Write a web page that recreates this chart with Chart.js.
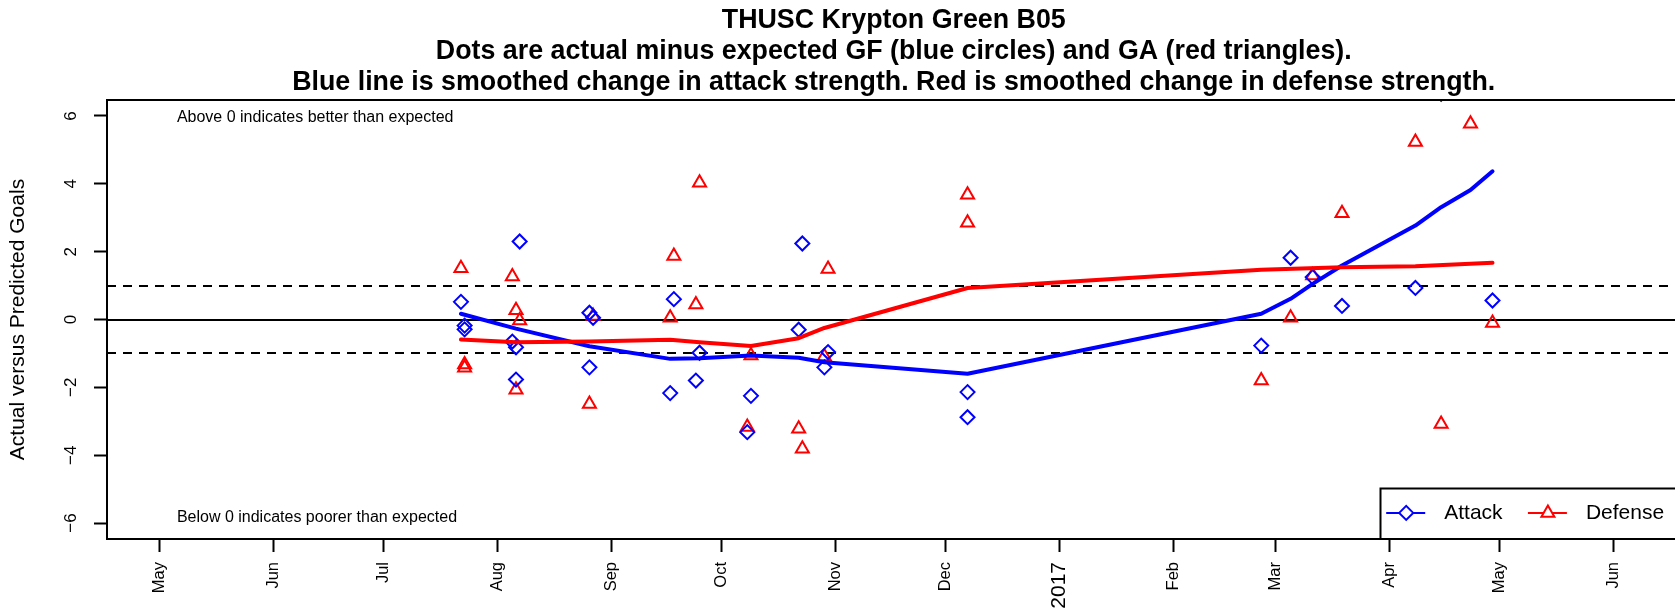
<!DOCTYPE html>
<html>
<head>
<meta charset="utf-8">
<script src="https://cdn.jsdelivr.net/npm/chart.js@4.4.1/dist/chart.umd.min.js"></script>
<style>
  html, body { margin: 0; padding: 0; background: #fff; overflow: hidden; }
  #wrap { width: 1690px; height: 615px; }
</style>
</head>
<body>
<div id="wrap"><canvas id="myChart" width="1690" height="615"></canvas></div>
<script>
// data
const titleLines = [
  'THUSC Krypton Green B05',
  'Dots are actual minus expected GF (blue circles) and GA (red triangles).',
  'Blue line is smoothed change in attack strength. Red is smoothed change in defense strength.'
];

const attackDates = ['2016-07-22', '2016-07-23', '2016-07-23', '2016-08-05', '2016-08-06', '2016-08-06',
  '2016-08-07', '2016-08-26', '2016-08-26', '2016-08-27', '2016-09-17', '2016-09-18', '2016-09-24',
  '2016-09-25', '2016-10-08', '2016-10-09', '2016-10-22', '2016-10-23', '2016-10-29', '2016-10-30',
  '2016-12-07', '2016-12-07', '2017-02-25', '2017-03-05', '2017-03-11', '2017-03-19', '2017-04-08',
  '2017-04-15', '2017-04-23', '2017-04-29'];
const attackValues = [0.52, -0.18, -0.29, -0.65, -0.82, -1.77,
  2.30, 0.20, -1.41, 0.05, -2.17, 0.60, -1.80,
  -0.98, -3.32, -2.25, -0.30, 2.24, -1.41, -0.96,
  -2.14, -2.88, -0.77, 1.82, 1.25, 0.40, 0.93,
  6.65, 7.5, 0.56];

const defenseDates = ['2016-07-22', '2016-07-23', '2016-07-23', '2016-08-05', '2016-08-06', '2016-08-06',
  '2016-08-07', '2016-08-26', '2016-08-27', '2016-09-17', '2016-09-18', '2016-09-24',
  '2016-09-25', '2016-10-08', '2016-10-09', '2016-10-22', '2016-10-23', '2016-10-29', '2016-10-30',
  '2016-12-07', '2016-12-07', '2017-02-25', '2017-03-05', '2017-03-11', '2017-03-19', '2017-04-08',
  '2017-04-15', '2017-04-23', '2017-04-29'];
const defenseValues = [1.51, -1.33, -1.42, 1.27, 0.27, -2.07,
  -0.03, -2.49, 0.10, 0.05, 1.87, 0.44,
  4.03, -3.17, -1.06, -3.22, -3.81, -1.09, 1.49,
  3.68, 2.85, -1.80, 0.05, 1.30, 3.13, 5.23,
  -3.08, 5.77, -0.10];

const attackTrendDates = ['2016-07-22', '2016-08-06', '2016-08-26', '2016-09-17', '2016-09-25', '2016-10-09',
  '2016-10-22', '2016-10-29', '2016-12-07', '2017-02-25', '2017-03-05', '2017-03-11', '2017-03-19',
  '2017-04-08', '2017-04-15', '2017-04-23', '2017-04-29'];
const attackTrendValues = [0.17, -0.27, -0.79, -1.16, -1.14, -1.06,
  -1.13, -1.26, -1.60, 0.17, 0.61, 1.05, 1.59,
  2.77, 3.31, 3.82, 4.37];

const defenseTrendDates = ['2016-07-22', '2016-08-06', '2016-08-26', '2016-09-17', '2016-09-25', '2016-10-09',
  '2016-10-22', '2016-10-29', '2016-12-07', '2017-02-25', '2017-03-19', '2017-04-08', '2017-04-29'];
const defenseTrendValues = [-0.59, -0.67, -0.65, -0.60, -0.67, -0.78,
  -0.55, -0.25, 0.93, 1.47, 1.54, 1.57, 1.67];

const monthTicks = ['2016-05-01', '2016-06-01', '2016-07-01', '2016-08-01', '2016-09-01', '2016-10-01',
  '2016-11-01', '2016-12-01', '2017-01-01', '2017-02-01', '2017-03-01', '2017-04-01', '2017-05-01', '2017-06-01'];
const monthLabels = ['May', 'Jun', 'Jul', 'Aug', 'Sep', 'Oct', 'Nov', 'Dec', '2017', 'Feb', 'Mar', 'Apr', 'May', 'Jun'];
const yTicks = [-6, -4, -2, 0, 2, 4, 6];
const refLines = [-1, 0, 1];

const FONT = "'Liberation Sans', Arial, Helvetica, sans-serif";
const toTime = s => Date.parse(s.length > 10 ? s + 'Z' : s + 'T00:00:00Z');
const pts = (dates, vals) => dates.map((d, i) => ({ x: toTime(d), y: vals[i] }));

// R-ish bits: box, reference lines, rotated y labels, notes, legend
const rStyle = {
  id: 'rStyle',
  beforeDatasetsDraw(chart) {
    const { ctx, chartArea: ca, scales: { y } } = chart;
    ctx.save();
    ctx.strokeStyle = '#000';
    ctx.lineWidth = 2;
    refLines.forEach(v => {
      const py = Math.round(y.getPixelForValue(v));
      ctx.setLineDash(v === 0 ? [] : [9, 7]);
      ctx.beginPath();
      ctx.moveTo(ca.left, py);
      ctx.lineTo(ca.right, py);
      ctx.stroke();
    });
    ctx.restore();
  },
  afterDatasetsDraw(chart) {
    const { ctx, chartArea: ca, scales: { x, y } } = chart;
    ctx.save();
    ctx.strokeStyle = '#000';
    ctx.lineWidth = 2;
    ctx.strokeRect(ca.left, ca.top, ca.right - ca.left, ca.bottom - ca.top);

    // y tick labels, rotated like R's las=0
    ctx.fillStyle = '#000';
    ctx.font = '17px ' + FONT;
    ctx.textAlign = 'center';
    ctx.textBaseline = 'middle';
    yTicks.forEach(v => {
      ctx.save();
      ctx.translate(71.5, y.getPixelForValue(v));
      ctx.rotate(-Math.PI / 2);
      ctx.fillText(v < 0 ? '\u2212' + Math.abs(v) : String(v), 0, 0);
      ctx.restore();
    });

    // notes
    ctx.font = '16px ' + FONT;
    ctx.textAlign = 'left';
    const nx = x.getPixelForValue(toTime('2016-05-05T15:00:00'));
    ctx.fillText('Above 0 indicates better than expected', nx, y.getPixelForValue(5.95));
    ctx.fillText('Below 0 indicates poorer than expected', nx, y.getPixelForValue(-5.85));

    // legend, bottom right inside the plot
    const bx = ca.right - 300, by = ca.bottom - 50.5;
    ctx.fillStyle = '#fff';
    ctx.fillRect(bx, by, ca.right - bx, ca.bottom - by);
    ctx.strokeRect(bx, by, ca.right - bx, ca.bottom - by);
    const items = chart.data.datasets.filter(d => !d.showLine);
    items.forEach((ds, i) => {
      const x0 = bx + 5.7 + i * 141.7, cy = by + 24.4;
      ctx.strokeStyle = ds.pointBorderColor;
      ctx.lineWidth = 2;
      ctx.beginPath();
      ctx.moveTo(x0, cy);
      ctx.lineTo(x0 + 39, cy);
      ctx.stroke();
      ctx.fillStyle = '#fff';
      Chart.helpers.drawPoint(ctx, { pointStyle: ds.pointStyle, radius: ds.pointRadius, borderWidth: 2, rotation: 0 }, x0 + 20, cy);
      ctx.fillStyle = '#000';
      ctx.font = '21px ' + FONT;
      ctx.fillText(ds.label, x0 + 58, cy);
    });
    ctx.restore();
  }
};

const axisGrid = { drawOnChartArea: false, drawTicks: true, tickLength: 13, tickWidth: 2, tickColor: '#000' };
const axisBorder = { display: true, color: '#000', width: 2 };

const data = {
  datasets: [
    { label: 'Defense trend', data: pts(defenseTrendDates, defenseTrendValues), showLine: true,
      borderColor: '#ff0000', borderWidth: 4, borderCapStyle: 'round', borderJoinStyle: 'round',
      pointRadius: 0, fill: false, clip: 0 },
    { label: 'Attack trend', data: pts(attackTrendDates, attackTrendValues), showLine: true,
      borderColor: '#0000ff', borderWidth: 4, borderCapStyle: 'round', borderJoinStyle: 'round',
      pointRadius: 0, fill: false, clip: 0 },
    { label: 'Attack', data: pts(attackDates, attackValues), showLine: false,
      pointStyle: 'rectRot', pointRadius: 7, pointBorderWidth: 2,
      pointBorderColor: '#0000ff', pointBackgroundColor: 'rgba(0,0,0,0)', clip: 0 },
    { label: 'Defense', data: pts(defenseDates, defenseValues), showLine: false,
      pointStyle: 'triangle', pointRadius: 7.5, pointBorderWidth: 2,
      pointBorderColor: '#ff0000', pointBackgroundColor: 'rgba(0,0,0,0)', clip: 0 }
  ]
};

const config = {
  type: 'scatter',
  data,
  options: {
    responsive: false,
    animation: false,
    events: [],
    layout: { padding: { left: 0, right: 7, top: 0, bottom: 0 } },
    plugins: {
      legend: { display: false },
      tooltip: { enabled: false },
      title: {
        display: true,
        fullSize: false,
        text: titleLines,
        color: '#000',
        font: { family: FONT, size: 26.8, weight: 'bold', lineHeight: '31px' },
        padding: { top: 5, bottom: 2 }
      }
    },
    scales: {
      x: {
        type: 'linear',
        min: toTime('2016-04-16T14:10:00'),
        max: toTime('2017-06-19T05:00:00'),
        afterBuildTicks: s => { s.ticks = monthTicks.map(d => ({ value: toTime(d) })); },
        afterFit: s => { s.height = 76; },
        grid: axisGrid,
        border: axisBorder,
        ticks: {
          autoSkip: false,
          minRotation: 90,
          maxRotation: 90,
          padding: 10,
          color: '#000',
          callback: (v, i) => monthLabels[i],
          font: ctx => ({ family: FONT, size: monthLabels[ctx.index] === '2017' ? 21 : 16.5 })
        }
      },
      y: {
        min: -6.47,
        max: 6.47,
        afterBuildTicks: s => { s.ticks = yTicks.map(v => ({ value: v })); },
        afterFit: s => { s.width = 107; },
        grid: axisGrid,
        border: axisBorder,
        ticks: { display: false },
        title: {
          display: true,
          text: 'Actual versus Predicted Goals',
          color: '#000',
          font: { family: FONT, size: 21 },
          padding: { top: 6, bottom: 0 }
        }
      }
    }
  },
  plugins: [rStyle]
};

const myChart = new Chart(document.getElementById('myChart'), config);
</script>
</body>
</html>
